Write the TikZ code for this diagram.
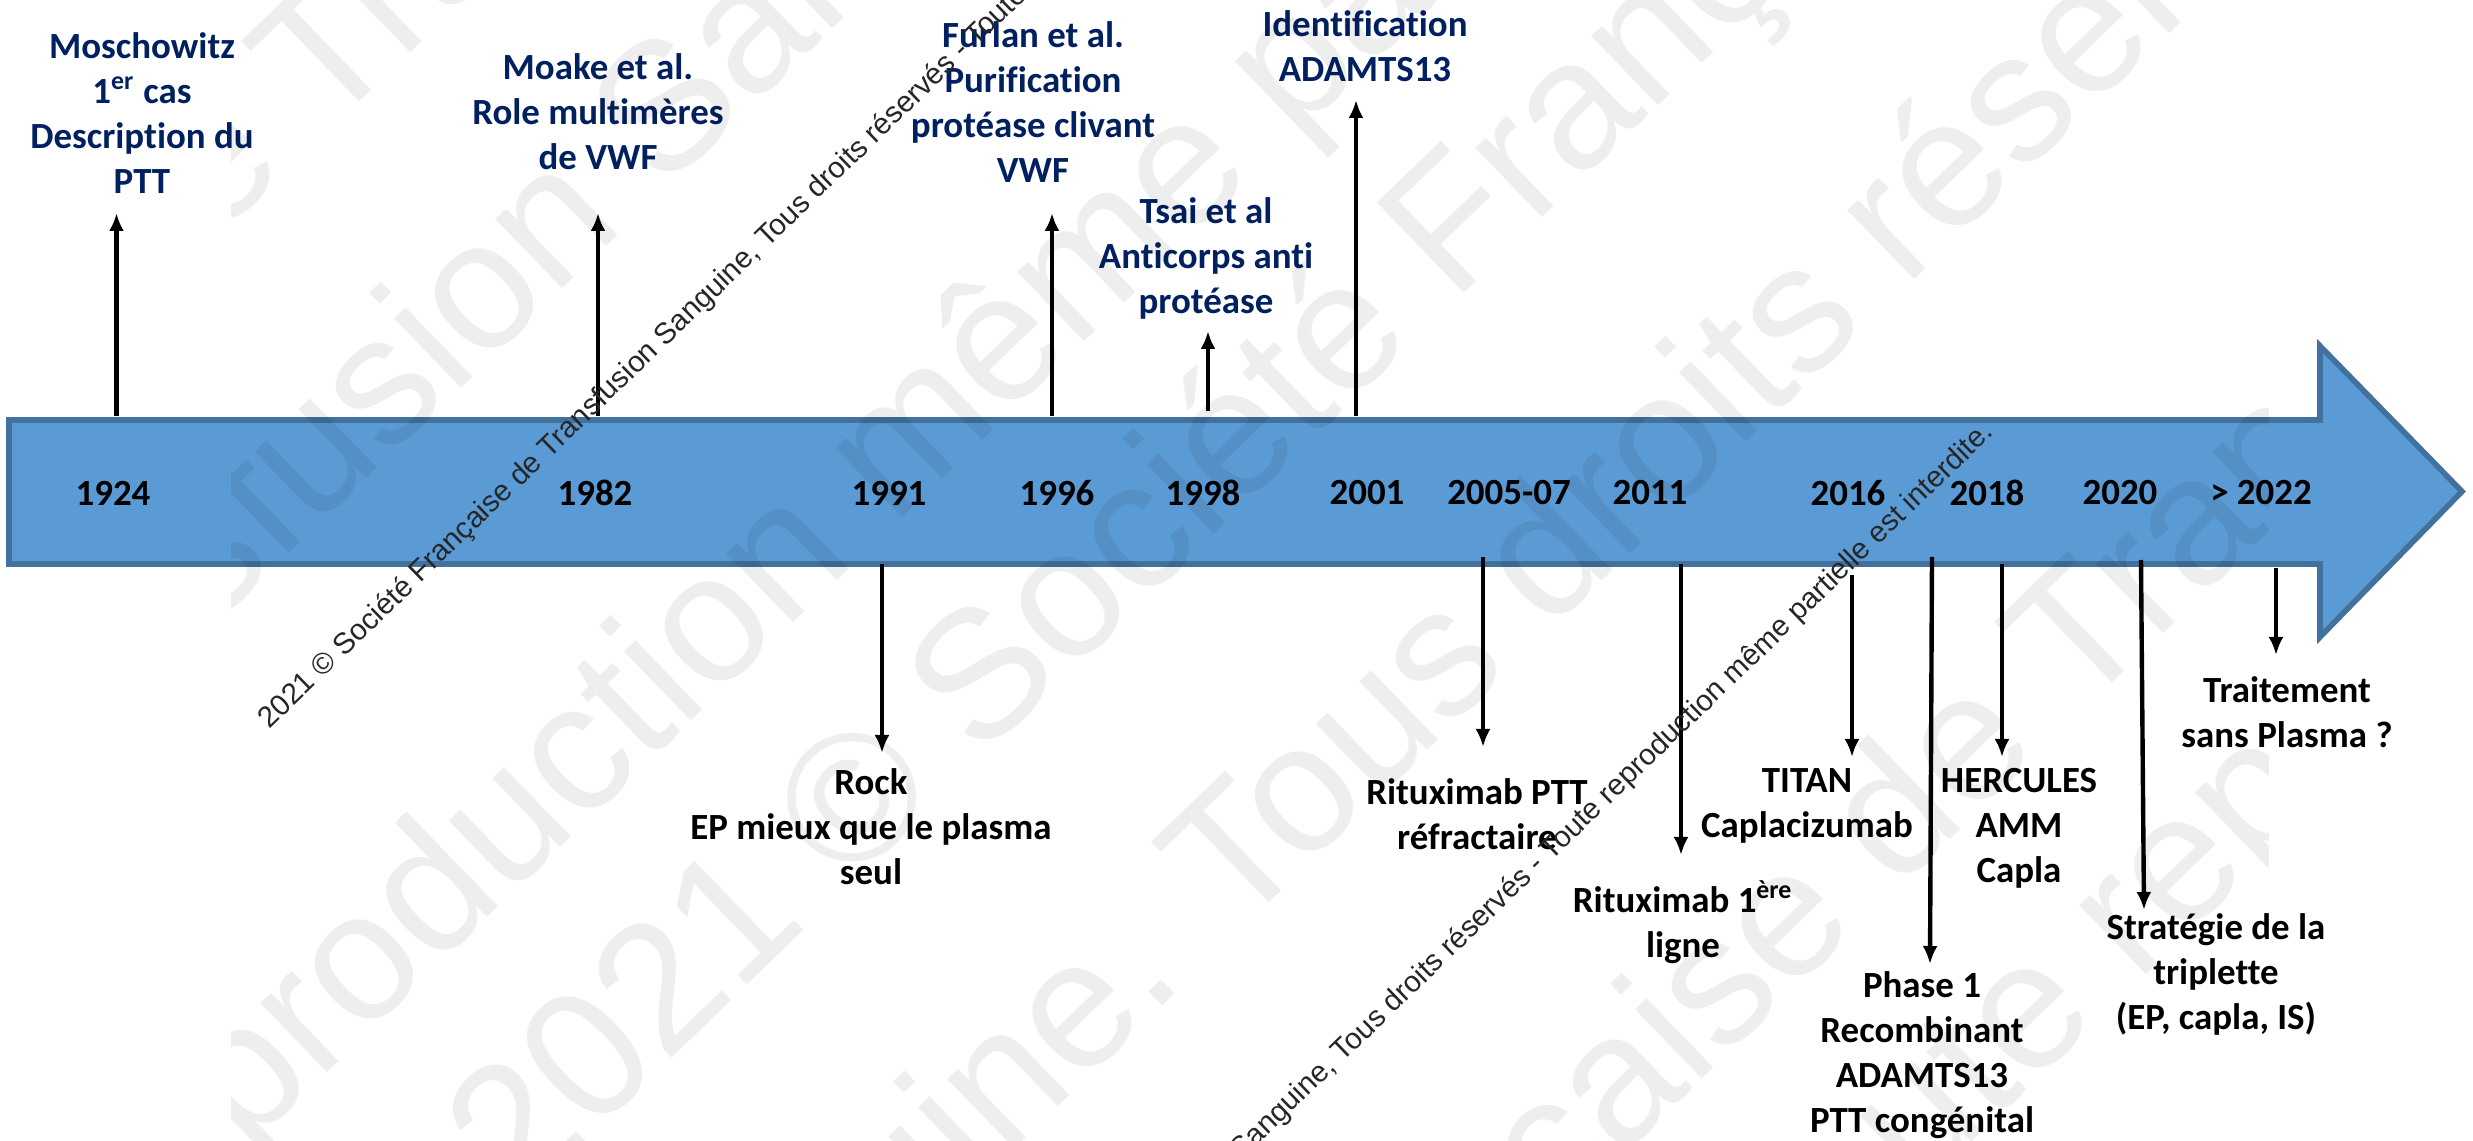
\documentclass[tikz,border=0pt]{standalone}
\usepackage{fontspec}
\setmainfont{Carlito}[Ligatures=NoCommon]
\newfontfamily\wmfont{Liberation Sans}
\usepackage{xcolor}
\usetikzlibrary{arrows.meta}

\definecolor{barfill}{HTML}{5B9BD5}
\definecolor{barline}{HTML}{41719C}
\definecolor{navy}{HTML}{002060}

\tikzset{
	yearlab/.style={font=\fontsize{10.5}{12.8}\selectfont\bfseries, inner sep=0pt},
	evup/.style={font=\fontsize{10.5}{12.8}\selectfont\bfseries, text=navy, align=center, inner sep=0pt},
	evdown/.style={font=\fontsize{10.5}{12.8}\selectfont\bfseries, text=black, align=center, inner sep=0pt},
	jalon/.style={draw=black, line width=1.25pt, -{Latex[length=1.8mm,width=1.5mm]}},
	wmbig/.style={font=\wmfont\fontsize{51.8}{60}\selectfont, text=black, text opacity=0.065, rotate=44, anchor=base west, inner sep=0pt},
	wmthin/.style={font=\wmfont\fontsize{8.4}{10}\selectfont, text=black!85, rotate=44, inner sep=0pt},
}

\begin{document}
\begin{tikzpicture}
	\useasboundingbox[fill=white] (0,0) rectangle (24.73,-11.41);

	% frise
	\draw[draw=barline, fill=barfill, line width=1.6pt] (0.09,-4.20) -- (23.20,-4.20) -- (23.20,-3.46) -- (24.62,-4.915) -- (23.20,-6.37) -- (23.20,-5.64) -- (0.09,-5.64) -- cycle;

	% annees
	\node[yearlab] (y1924) at (1.13,-4.93) {1924};
	\node[yearlab] (y1982) at (5.95,-4.93) {1982};
	\node[yearlab] (y1991) at (8.89,-4.93) {1991};
	\node[yearlab] (y1996) at (10.57,-4.93) {1996};
	\node[yearlab] (y1998) at (12.03,-4.93) {1998};
	\node[yearlab] (y2001) at (13.67,-4.93) {2001};
	\node[yearlab] (y2005) at (15.09,-4.93) {2005-07};
	\node[yearlab] (y2011) at (16.50,-4.93) {2011};
	\node[yearlab] (y2016) at (18.48,-4.93) {2016};
	\node[yearlab] (y2018) at (19.87,-4.93) {2018};
	\node[yearlab] (y2020) at (21.20,-4.93) {2020};
	\node[yearlab] (y2022) at (22.61,-4.93) {> 2022};

	% evenements au-dessus
	\node[evup] (e1924) at (1.42,-1.135) {Moschowitz\\1\textsuperscript{er} cas\\Description du\\PTT};
	\node[evup] (e1982) at (5.98,-1.12) {Moake et al.\\Role multimères\\de VWF};
	\node[evup] (e1996) at (10.33,-1.025) {Furlan et al.\\Purification\\protéase clivant\\VWF};
	\node[evup] (e1998) at (12.06,-2.58) {Tsai et al\\Anticorps anti\\protéase};
	\node[evup] (e2001) at (13.65,-0.46) {Identification\\ADAMTS13};

	% evenements au-dessous
	\node[evdown] (e1991) at (8.71,-8.27) {Rock\\EP mieux que le plasma\\seul};
	\node[evdown] (e2005) at (14.77,-8.145) {Rituximab PTT\\réfractaire};
	\node[evdown] (e2011) at (16.83,-9.22) {Rituximab 1\textsuperscript{ère}\\ligne};
	\node[evdown] (e2016) at (18.07,-8.06) {TITAN\\Caplacizumab};
	\node[evdown] (e2016b) at (19.22,-10.55) {Phase 1\\Recombinant\\ADAMTS13\\PTT congénital};
	\node[evdown] (e2018) at (20.19,-8.285) {HERCULES\\AMM\\Capla};
	\node[evdown] (e2020) at (22.16,-9.745) {Stratégie de la\\triplette\\(EP, capla, IS)};
	\node[evdown] (e2022) at (22.87,-7.12) {Traitement\\sans Plasma ?};

	% fleches
	\coordinate (a1924) at (1.165,-4.16);	\coordinate (b1924) at (1.165,-2.13);
	\coordinate (a1982) at (5.98,-4.16);	\coordinate (b1982) at (5.98,-2.13);
	\coordinate (a1996) at (10.52,-4.16);	\coordinate (b1996) at (10.52,-2.13);
	\coordinate (a1998) at (12.08,-4.11);	\coordinate (b1998) at (12.08,-3.31);
	\coordinate (a2001) at (13.56,-4.16);	\coordinate (b2001) at (13.56,-1.00);
	\coordinate (a1991) at (8.82,-5.64);	\coordinate (b1991) at (8.82,-7.53);
	\coordinate (a2005) at (14.83,-5.57);	\coordinate (b2005) at (14.83,-7.47);
	\coordinate (a2011) at (16.81,-5.64);	\coordinate (b2011) at (16.81,-8.55);
	\coordinate (a2016) at (18.52,-5.75);	\coordinate (b2016) at (18.52,-7.57);
	\coordinate (a2016b) at (19.32,-5.57);	\coordinate (b2016b) at (19.30,-9.64);
	\coordinate (a2018) at (20.02,-5.64);	\coordinate (b2018) at (20.02,-7.57);
	\coordinate (a2020) at (21.41,-5.60);	\coordinate (b2020) at (21.44,-9.10);
	\coordinate (a2022) at (22.76,-5.68);	\coordinate (b2022) at (22.76,-6.55);

	\draw[jalon] (a1924) -- (b1924);
	\draw[jalon] (a1982) -- (b1982);
	\draw[jalon] (a1996) -- (b1996);
	\draw[jalon] (a1998) -- (b1998);
	\draw[jalon] (a2001) -- (b2001);
	\draw[jalon] (a1991) -- (b1991);
	\draw[jalon] (a2005) -- (b2005);
	\draw[jalon] (a2011) -- (b2011);
	\draw[jalon] (a2016) -- (b2016);
	\draw[jalon] (a2016b) -- (b2016b);
	\draw[jalon] (a2018) -- (b2018);
	\draw[jalon] (a2020) -- (b2020);
	\draw[jalon] (a2022) -- (b2022);

	% filigrane
	\begin{scope}
		\clip (2.31,0) rectangle (22.68,-11.41);
		\node[wmbig] (wmA) at (-4.68,-9.01) {Française de Transfusion Sanguine. Tous droits réservés};
		\node[wmbig] (wmB) at (-0.53,-8.84) {Transfusion Sanguine. Tous droits réservés - Toute};
		\node[wmbig] (wmC) at (-2.28,-16.09) {Toute reproduction même partielle est interdite.};
		\node[wmbig] (wmD) at (5.19,-12.06) {2021 © Société Française de Transfusion};
		\node[wmbig] (wmE) at (5.97,-15.52) {Sanguine. Tous droits réservés - Toute reproduction};
		\node[wmbig] (wmF) at (12.85,-14.82) {Française de Transfusion Sanguine.};
		\node[wmbig] (wmG) at (17.80,-13.28) {Toute reproduction même partielle};
	\end{scope}

	\node[wmthin, anchor=base west] (wm1) at (2.69,-7.30) {2021 © Société Française de Transfusion Sanguine, Tous droits réservés - Toute reproduction même partielle est interdite.};
	\node[wmthin, anchor=base east] (wm2) at (19.95,-4.33) {2021 © Société Française de Transfusion Sanguine, Tous droits réservés - Toute reproduction même partielle est interdite.};
\end{tikzpicture}
\end{document}
